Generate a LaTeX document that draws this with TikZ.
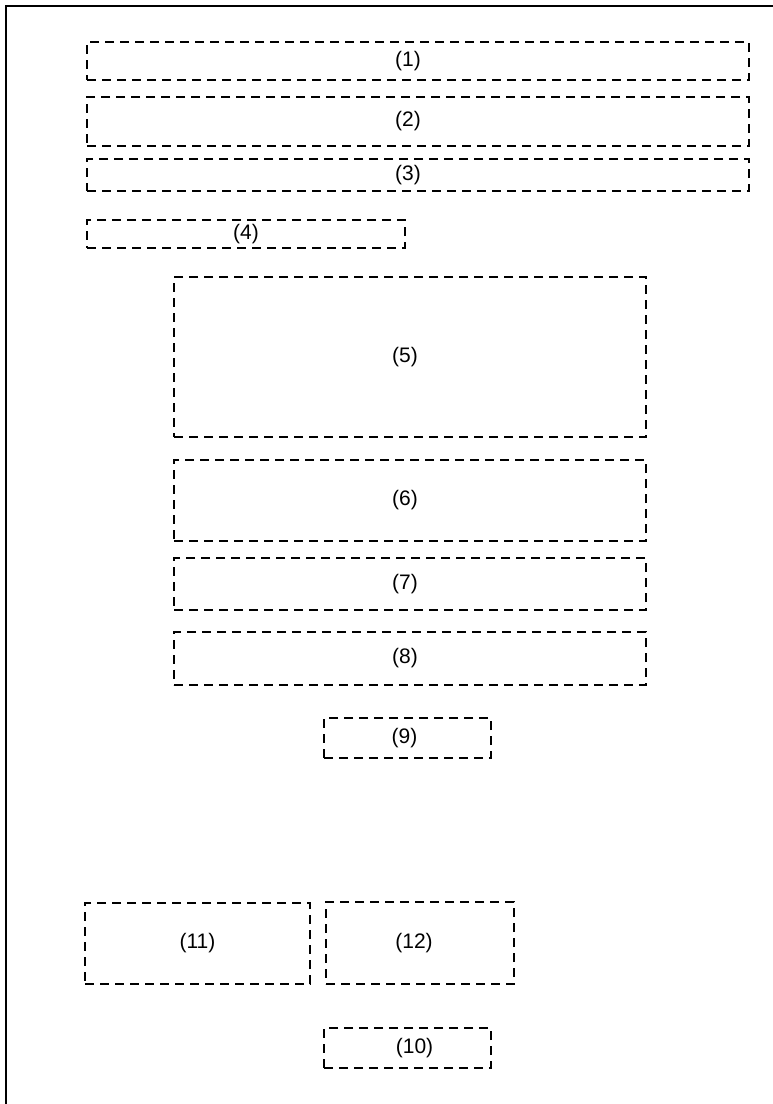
\documentclass[tikz,border=0pt]{standalone}
\usepackage{fontspec}
\setmainfont{Liberation Sans}
\usepackage{tikz}

\tikzset{
  part/.style={draw,line width=2pt,dash pattern=on 9pt off 6pt,inner sep=0pt},
  tag/.style={font=\fontsize{21}{23}\selectfont,inner sep=0pt}
}

\begin{document}
\begin{tikzpicture}[x=1pt,y=-1pt]
\useasboundingbox (0,0) rectangle (773,1104);
\draw[line width=2.2pt] (6,1104) -- (6,6) -- (773,6);
\node[part,minimum width=662pt,minimum height=38pt,label={[tag,xshift=-10pt]center:(1)}] (p1) at (418,61) {};
\node[part,minimum width=662pt,minimum height=49pt,label={[tag,xshift=-10pt]center:(2)}] (p2) at (418,121.5) {};
\node[part,minimum width=662pt,minimum height=32pt,label={[tag,xshift=-10pt]center:(3)}] (p3) at (418,175) {};
\node[part,minimum width=318pt,minimum height=28pt,label={[tag]center:(4)}] (p4) at (246,234) {};
\node[part,minimum width=472pt,minimum height=160pt,label={[tag,xshift=-5pt]center:(5)}] (p5) at (410,357) {};
\node[part,minimum width=472pt,minimum height=81pt,label={[tag,xshift=-5pt]center:(6)}] (p6) at (410,500.5) {};
\node[part,minimum width=472pt,minimum height=52pt,label={[tag,xshift=-5pt]center:(7)}] (p7) at (410,584) {};
\node[part,minimum width=472pt,minimum height=53pt,label={[tag,xshift=-5pt]center:(8)}] (p8) at (410,658.5) {};
\node[part,minimum width=167pt,minimum height=40pt,label={[tag,xshift=-3pt]center:(9)}] (p9) at (407.5,738) {};
\node[part,minimum width=225pt,minimum height=81pt,label={[tag]center:(11)}] (p11) at (197.5,943.5) {};
\node[part,minimum width=188pt,minimum height=82pt,label={[tag,xshift=-6pt]center:(12)}] (p12) at (420,943) {};
\node[part,minimum width=167pt,minimum height=40pt,label={[tag,xshift=7pt]center:(10)}] (p10) at (407.5,1048) {};
\end{tikzpicture}
\end{document}
